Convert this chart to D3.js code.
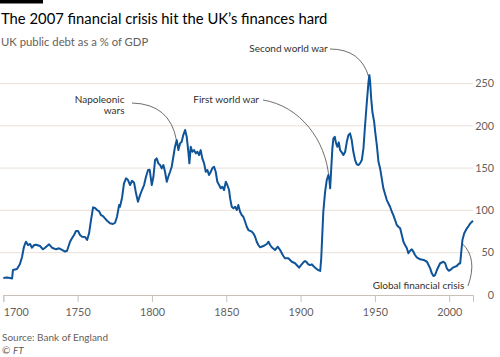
<!DOCTYPE html>
<html><head><meta charset="utf-8">
<script src="https://cdn.jsdelivr.net/npm/d3@7"></script>
<style>
body{margin:0;background:#fff}
svg{display:block}
text{font-family:Lato,"Noto Sans",sans-serif}
</style>
</head><body>
<svg id="chart" width="500" height="357"></svg>
<script>
const years=[1700,1702.5,1704.5,1705.9,1706.5,1709.2,1711.2,1712.6,1713.9,1714.6,1715.3,1716.6,1718,1719.3,1720.7,1722,1724.7,1726.7,1728.1,1730.8,1732.8,1735.5,1737.5,1739.5,1741.5,1742.9,1744.9,1746.2,1747.6,1748.9,1750.3,1751.6,1753,1755,1756.4,1757.7,1759,1760.4,1761.7,1763.1,1764.4,1765.7,1767.1,1768.4,1769.8,1771.8,1773.8,1775.2,1776.5,1777.9,1778.5,1779.9,1781.2,1782.6,1783.9,1785.3,1786.6,1788,1789.3,1790.6,1792,1793.3,1794.7,1796,1797.4,1798.5,1799.9,1801,1802.1,1803.2,1804.3,1805.5,1806.6,1807.7,1808.8,1810,1811,1812.2,1813.3,1814.4,1815.5,1816.7,1817.8,1818.9,1820,1821.1,1822.3,1823.4,1824.5,1825.2,1826.1,1827.2,1828.3,1829.5,1830.6,1831.7,1832.8,1833.9,1835.1,1836.2,1837.3,1838.4,1839.6,1840.6,1841.8,1842.9,1844,1845.2,1846.3,1847.4,1848.5,1849.7,1850.7,1851.9,1852.6,1853.7,1854.8,1855.9,1857.1,1858.1,1859.3,1860.4,1861.5,1862.7,1863.8,1864.9,1867.2,1868.2,1869.4,1870.5,1871.6,1872.7,1875,1877.3,1878.4,1879.5,1880.6,1882.8,1884.7,1886.2,1887.4,1888.4,1889.6,1891.8,1894.1,1896.3,1897.4,1899,1900.3,1901.9,1903,1904.2,1905.2,1906.4,1907.5,1908.6,1909.8,1910.9,1912,1913.2,1913.9,1914.5,1915.3,1916.5,1917.6,1918.7,1919.4,1919.9,1920.5,1921.4,1922.1,1923,1923.9,1924.8,1925.7,1926.6,1927.7,1928.8,1930,1931.1,1932.2,1933.3,1934.4,1935.5,1936.7,1937.8,1938.9,1940,1941.2,1942.3,1943.4,1944.6,1945.7,1946.3,1946.8,1947.5,1948.3,1949.5,1950.2,1951.3,1952.4,1953.5,1955.7,1958,1960.2,1961.4,1962.4,1963.6,1964.7,1965.8,1967,1968.1,1969.2,1970.3,1971.5,1972.5,1973.7,1974.8,1975.9,1977,1978.2,1980.4,1982.8,1985,1986.1,1987.2,1988.3,1989.4,1990.5,1991.7,1993.9,1996.1,1997.3,1998.4,1999.6,2000.7,2002.8,2005.1,2006.2,2007.4,2008,2008.9,2010.1,2011.9,2013,2014.2,2015.3,2016];
const debt=[20.1,20.7,20,19.4,29.5,30.7,36.6,44.9,57,60.3,63,59,60.3,55.9,59,59.4,57.9,54,55.9,59.9,55.9,54,55.2,53.2,51.2,52.3,63,67,70.9,75.6,75.6,70.9,68.9,68.5,65,72.9,88.6,103.6,102.8,100.4,99.2,94.5,93.3,90.6,87.8,84.7,83.9,85.4,92.5,106.3,104.3,115,132,137.9,135.9,130,135,132.7,120.2,110.2,118.1,124.1,130,139.8,147.7,148,130,139.8,159.5,161.5,155.6,153.6,149.7,153.6,145.7,133.9,139.8,145.7,151.6,163.4,175.2,183.1,171.3,179.2,181.1,189,195,187,169.3,155.6,175.2,169.3,171.3,167.4,169.3,165.4,171.3,161.5,155.6,145.7,147.7,141.8,145.7,149.7,151.6,145.7,133.9,130,126.1,128,124.1,133.9,130,124.1,114.2,104.3,102.4,104.3,100.4,106.3,98.4,94.5,92.5,86.6,80.7,76.8,74.8,72.9,68.9,63,59.1,56.4,57.9,60.3,63,59.1,56.4,53.2,57.1,53.2,49.3,46.1,43.4,43.4,39.3,37.5,35.4,32.3,35.4,38.6,40.2,38.6,36.3,35.4,36.3,34.3,32.3,30.7,29.5,28.4,43.4,67,98.4,122,135.9,141.8,135.9,126.1,145.7,173.3,185.1,187,179.2,175.2,180.4,171.3,168.6,165.4,169.3,181.1,189,191,183.1,169.3,159.5,154.4,153.6,155.6,159.5,173.3,200.9,228.4,252,259.9,252,232.4,216.6,204.7,192.9,177.2,157.5,149.7,126.1,112.2,104.3,98.4,94.5,88.6,82.7,80.7,78.8,70.9,63,59.1,55.2,49.3,52.3,54,51.2,47.3,44.5,42.2,41.4,39.3,35.4,31.5,25.6,22.4,23.6,29.5,37.5,39.3,37.5,31.5,28.7,29.5,32.7,34.3,36.6,37.5,49.3,65,72.9,78.8,81.5,84.7,86.6,87.8];
const xTickValues=[1700,1750,1800,1850,1900,1950,2000];
const yTickValues=[0,50,100,150,200,250];
const titleText="The 2007 financial crisis hit the UK\u2019s finances hard";
const subtitleText="UK public debt as a % of GDP";
const sourceLines=["Source: Bank of England","\u00a9 "];
const noteLabels=["Napoleonic","wars","First world war","Second world war","Global financial crisis"];

const svg=d3.select("#chart");
const x=d3.scaleLinear().domain([1700,2016]).range([3.3,473]);
const y=d3.scaleLinear().domain([0,250]).range([295,83.5]);

svg.append("rect").attr("x",0).attr("y",0).attr("width",43).attr("height",3.5).attr("fill","#000");
svg.append("text").attr("x",1).attr("y",23.5).attr("font-size",14.8).attr("fill","#000").text(titleText);
svg.append("text").attr("x",1).attr("y",45.5).attr("font-size",11.3).attr("fill","#66605c").text(subtitleText);

// gridlines
svg.append("g").selectAll("line").data(yTickValues.filter(d=>d>0)).join("line")
  .attr("x1",0).attr("x2",473).attr("y1",d=>y(d)).attr("y2",d=>y(d))
  .attr("stroke","#e9e1d8").attr("stroke-width",1);
// y labels
svg.append("g").selectAll("text").data(yTickValues).join("text")
  .attr("x",494).attr("y",d=>y(d)).attr("dy","0.35em").attr("text-anchor","end")
  .attr("font-size",10.8).attr("fill","#66605c").text(d=>d);

// x axis
const xAxis=d3.axisBottom(x).tickValues(xTickValues).tickFormat(d3.format("d")).tickSize(7).tickSizeOuter(7).tickPadding(6);
const gx=svg.append("g").attr("transform","translate(0,295)").call(xAxis);
gx.select(".domain").attr("stroke","#c9c1b9");
gx.selectAll(".tick line").attr("stroke","#c9c1b9");
gx.selectAll(".tick text").attr("font-size",10.8).attr("fill","#66605c").attr("font-family","Lato,'Noto Sans',sans-serif");
gx.selectAll(".tick text").filter(d=>d===1700).attr("text-anchor","start").attr("x",0);

// annotation lines
const ann=svg.append("g").attr("fill","none").attr("stroke","#4d4845").attr("stroke-width",0.8);
ann.append("path").attr("d",`M132,103 Q170,104 ${x(1816.5)},${y(183)}`);
ann.append("path").attr("d",`M263,100 C300,106 326,140 ${x(1919.1)},${y(138)}`);
ann.append("path").attr("d",`M330,49 Q361,49 ${x(1946)},${y(257)}`);
ann.append("path").attr("d",`M468,286 Q478,258 ${x(2008.6)},${y(61)}`);

// line
const line=d3.line().x((d,i)=>x(years[i])).y(d=>y(d));
svg.append("path").datum(debt).attr("d",line).attr("fill","none")
  .attr("stroke","#0f5499").attr("stroke-width",2).attr("stroke-linejoin","round");

// annotation text
const at=svg.append("g").attr("font-size",10).attr("fill","#33302e");
at.append("text").attr("x",124.5).attr("y",102.7).attr("text-anchor","end").text(noteLabels[0]);
at.append("text").attr("x",124.5).attr("y",113.5).attr("text-anchor","end").text(noteLabels[1]);
at.append("text").attr("x",259).attr("y",102.7).attr("text-anchor","end").text(noteLabels[2]);
at.append("text").attr("x",327.7).attr("y",52).attr("text-anchor","end").text(noteLabels[3]);
at.append("text").attr("x",464.3).attr("y",289.3).attr("text-anchor","end").text(noteLabels[4]);

// source
const src=svg.append("g").selectAll("text").data(sourceLines).join("text")
  .attr("x",2).attr("y",(d,i)=>341+i*12.5).attr("font-size",10).attr("fill","#66605c").text(d=>d);
src.filter((d,i)=>i===1).append("tspan").attr("font-style","italic").text("FT");
</script>
</body></html>
